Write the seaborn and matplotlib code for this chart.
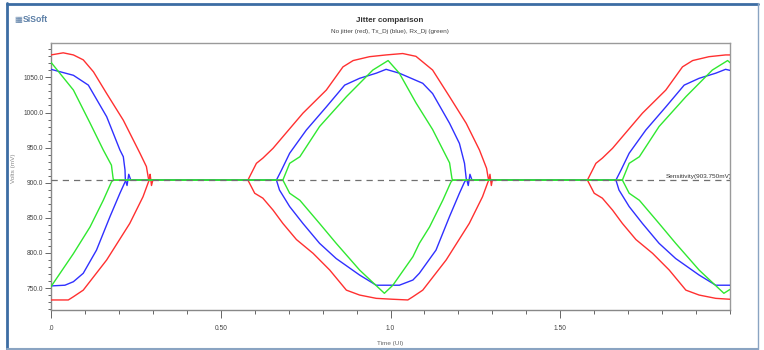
import matplotlib
matplotlib.use("Agg")
import matplotlib.pyplot as plt
import seaborn as sns
import pandas as pd
from matplotlib.lines import Line2D
from matplotlib.ticker import FixedLocator, FixedFormatter, MultipleLocator

# ---------------- data ----------------
SENS = 903.75

red_up_x = [0.000, 0.036, 0.066, 0.095, 0.125, 0.164, 0.213, 0.262, 0.281, 0.287, 0.290, 0.292, 0.296, 0.300,
            0.580, 0.605, 0.624, 0.654, 0.683, 0.742, 0.811, 0.860, 0.890, 0.938, 0.987, 1.036, 1.075,
            1.124, 1.174, 1.223, 1.262, 1.283, 1.288, 1.290, 1.293, 1.297, 1.300,
            1.580, 1.605, 1.624, 1.654, 1.683, 1.742, 1.811, 1.860, 1.890, 1.938, 1.987, 2.000]
red_up_y = [1082, 1085, 1082, 1075, 1058, 1027, 989, 942, 923, 906, 903.75, 912, 896, 903.75,
            903.75, 927.6, 935, 949, 965.5, 999, 1032, 1065, 1074, 1079.5, 1082, 1084, 1080,
            1060.5, 1022.5, 984.6, 946.6, 920.5, 906, 903.75, 912, 896, 903.75,
            903.75, 927.6, 935, 949, 965.5, 999, 1032, 1065, 1074, 1079.5, 1082, 1082]

red_lo_x = [0.000, 0.051, 0.066, 0.095, 0.164, 0.232, 0.271, 0.287, 0.290,
            0.580, 0.600, 0.624, 0.654, 0.683, 0.723, 0.772, 0.821, 0.870, 0.909, 0.958, 1.007, 1.051,
            1.066, 1.095, 1.164, 1.232, 1.271, 1.287, 1.290,
            1.580, 1.600, 1.624, 1.654, 1.683, 1.723, 1.772, 1.821, 1.870, 1.909, 1.958, 2.000]
red_lo_y = [733, 733, 737.6, 747, 790, 842, 880, 901, 903.75,
            903.75, 885, 878, 861, 842, 819, 799.4, 775.6, 747, 740, 735.3, 734, 733,
            737.6, 747, 790, 842, 880, 901, 903.75,
            903.75, 885, 878, 861, 842, 819, 799.4, 775.6, 747, 740, 735.3, 734]

blue_up_x = [0.000, 0.066, 0.110, 0.164, 0.203, 0.213, 0.218, 0.219, 0.224, 0.229, 0.235,
             0.664, 0.679, 0.703, 0.752, 0.811, 0.865, 0.909, 0.958, 0.987, 1.026, 1.095,
             1.124, 1.174, 1.203, 1.218, 1.223, 1.225, 1.229, 1.234, 1.240,
             1.664, 1.679, 1.703, 1.752, 1.811, 1.865, 1.909, 1.958, 1.987, 2.000]
blue_up_y = [1061.5, 1053, 1039, 994, 946.6, 937, 918, 903.75, 896, 912, 903.75,
             903.75, 918, 942, 975, 1008, 1039, 1048.7, 1056, 1061.5, 1056, 1041.6,
             1027, 984.6, 956, 927.6, 906, 903.75, 896, 912, 903.75,
             903.75, 918, 942, 975, 1008, 1039, 1048.7, 1056, 1061.5, 1060]

blue_lo_x = [0.000, 0.041, 0.066, 0.095, 0.134, 0.174, 0.203, 0.218, 0.222,
             0.664, 0.673, 0.703, 0.742, 0.791, 0.840, 0.909, 0.958, 1.026, 1.066, 1.085,
             1.134, 1.174, 1.203, 1.218, 1.222,
             1.664, 1.673, 1.703, 1.742, 1.791, 1.840, 1.909, 1.958, 2.000]
blue_lo_y = [753, 754, 759, 771, 804, 852, 885, 901, 903.75,
             903.75, 889.6, 866, 842, 813.7, 792, 768.5, 754, 754, 761.4, 771,
             804, 852, 885, 901, 903.75,
             903.75, 889.6, 866, 842, 813.7, 792, 768.5, 754, 754]

green_up_x = [0.000, 0.066, 0.115, 0.154, 0.178, 0.183, 0.185,
              0.683, 0.703, 0.733, 0.791, 0.870, 0.948, 0.993, 1.026, 1.075, 1.124, 1.174, 1.181, 1.183,
              1.683, 1.703, 1.733, 1.791, 1.870, 1.948, 1.993, 2.000]
green_up_y = [1071.5, 1032, 985, 946.6, 925, 906, 903.75,
              903.75, 927.6, 937, 980, 1022.5, 1060.5, 1074, 1056, 1013.8, 975.8, 928.3, 906, 903.75,
              903.75, 927.6, 937, 980, 1022.5, 1060.5, 1074, 1071]

green_lo_x = [0.000, 0.066, 0.115, 0.154, 0.178, 0.183,
              0.683, 0.703, 0.733, 0.791, 0.840, 0.909, 0.982, 1.007, 1.066, 1.085, 1.115, 1.154, 1.178, 1.183,
              1.683, 1.703, 1.733, 1.791, 1.840, 1.909, 1.982, 2.000]
green_lo_y = [752, 799, 837, 875, 901, 903.75,
              903.75, 885, 875, 842, 813.7, 775.6, 742.5, 754, 794.6, 813.7, 837, 875, 901, 903.75,
              903.75, 885, 875, 842, 813.7, 775.6, 742.5, 748]

x_ticks = [0.0, 0.5, 1.0, 1.5]
x_tick_labels = [".0", "0.50", "1.0", "1.50"]
y_ticks = [750, 800, 850, 900, 950, 1000, 1050]
y_tick_labels = ["750.0", "800.0", "850.0", "900.0", "950.0", "1000.0", "1050.0"]

# ---------------- styling ----------------
sns.set_style("white")
plt.rcParams["font.family"] = ["Liberation Sans", "DejaVu Sans"]

W, H = 764, 350
fig = plt.figure(figsize=(W / 100, H / 100), dpi=100)
fig.patch.set_facecolor("white")

L, R, T, B = 51, 730, 43, 310
ax = fig.add_axes([L / W, 1 - B / H, (R - L) / W, (B - T) / H])

RED, BLUE, GREEN = "#ff3030", "#3030ff", "#30e830"
curves = [
    (red_up_x, red_up_y, RED), (red_lo_x, red_lo_y, RED),
    (blue_up_x, blue_up_y, BLUE), (blue_lo_x, blue_lo_y, BLUE),
    (green_up_x, green_up_y, GREEN), (green_lo_x, green_lo_y, GREEN),
]
for i, (xs, ys, c) in enumerate(curves):
    df = pd.DataFrame({"t": xs, "v": ys})
    sns.lineplot(data=df, x="t", y="v", sort=False, estimator=None, color=c,
                 linewidth=1.0, ax=ax, zorder=3 + i // 2)

ax.axhline(SENS, color="#707070", linestyle=(0, (5, 4)), linewidth=0.9, zorder=10)
ax.text(1.812, SENS + 1.0, "Sensitivity(903.750mV)", fontsize=4.6, color="#333333",
        ha="left", va="bottom", zorder=11, clip_on=True)

ax.set_xlim(0, 2.0)
ax.set_ylim(718.7, 1099)

ax.xaxis.set_major_locator(FixedLocator(x_ticks))
ax.xaxis.set_major_formatter(FixedFormatter(x_tick_labels))
ax.xaxis.set_minor_locator(MultipleLocator(0.1))
ax.yaxis.set_major_locator(FixedLocator(y_ticks))
ax.yaxis.set_major_formatter(FixedFormatter(y_tick_labels))
ax.yaxis.set_minor_locator(MultipleLocator(10))

ax.tick_params(axis="x", which="major", direction="out", length=5.5, width=0.7,
               color="#666666", labelsize=4.8, labelcolor="#444444", pad=5, bottom=True)
ax.tick_params(axis="x", which="minor", direction="out", length=3, width=0.7,
               color="#666666", bottom=True)
ax.tick_params(axis="y", which="major", direction="out", length=4.5, width=0.7,
               color="#666666", labelsize=4.8, labelcolor="#444444", pad=1, left=True)
ax.tick_params(axis="y", which="minor", direction="out", length=2.5, width=0.7,
               color="#666666", left=True)

for s in ax.spines.values():
    s.set_visible(True)
    s.set_color("#9a9a9a")
    s.set_linewidth(1.0)
ax.spines["left"].set_color("#888888")
ax.spines["bottom"].set_color("#888888")

ax.set_xlabel("")
ax.set_ylabel("")

# labels & titles in pixel positions
def px(x, y):
    return x / W, 1 - y / H

fig.text(*px(390, 21), "Jitter comparison", fontsize=5.8, fontweight="bold",
         color="#333333", ha="center", va="center")
fig.text(*px(390, 31.5), "No jitter (red), Tx_Dj (blue), Rx_Dj (green)", fontsize=4.6,
         color="#444444", ha="center", va="center")
fig.text(*px(13, 168), "Volts (mV)", fontsize=4.6, color="#888888", rotation=90,
         ha="center", va="center")
fig.text(*px(390, 343), "Time (UI)", fontsize=4.6, color="#666666", ha="center", va="center")
fig.text(*px(14, 19.5), "\u25a6", fontsize=6, color="#5b7ea6", ha="left", va="center",
         fontfamily="DejaVu Sans")
fig.text(*px(23, 19.5), "SiSoft", fontsize=6.2, fontweight="bold", color="#5b7ea6",
         ha="left", va="center")

# outer frame
fig.add_artist(Line2D([7 / W, 7 / W], [1 - 3 / H, 1 - 349 / H], color="#3c6da3", linewidth=2.0))
fig.add_artist(Line2D([7 / W, 758 / W], [1 - 3.5 / H, 1 - 3.5 / H], color="#3c6da3", linewidth=2.0))
fig.add_artist(Line2D([7 / W, 758 / W], [1 - 348.5 / H, 1 - 348.5 / H], color="#8aa4c2", linewidth=1.5))
fig.add_artist(Line2D([757.5 / W, 757.5 / W], [1 - 3 / H, 1 - 349 / H], color="#8aa4c2", linewidth=1.0))

fig.savefig("out.png", dpi=100, facecolor="white")
